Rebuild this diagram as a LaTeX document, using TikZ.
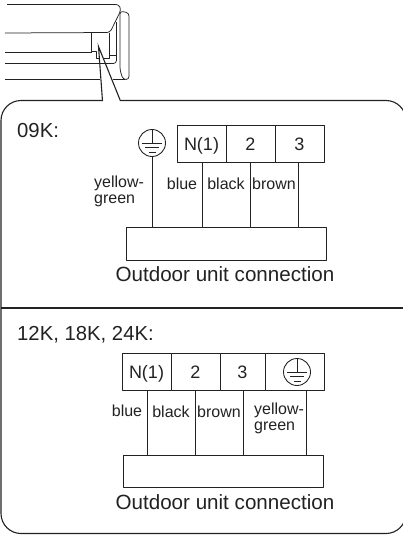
\documentclass[tikz,border=0pt]{standalone}
\usepackage{fontspec}
\setmainfont{Liberation Sans}
\definecolor{ink}{HTML}{222222}
\tikzset{
  every picture/.style={x=1pt,y=-1pt},
  ln/.style={draw=ink,line width=0.85pt,line join=round},
  thin line/.style={draw=ink,line width=0.75pt,line join=round},
  thick line/.style={draw=ink,line width=1.1pt},
  cell/.style={ln,minimum height=37pt,inner sep=0pt,font=\fontsize{18}{18}\selectfont,text=ink,text height=14pt,text depth=0pt},
  unitbox/.style={ln,inner sep=0pt},
  big/.style={anchor=base,inner sep=0pt,text=ink,font=\fontsize{20.6}{20.6}\selectfont},
  head/.style={anchor=base west,inner sep=0pt,text=ink,font=\fontsize{20.3}{20.3}\selectfont},
  small/.style={anchor=base,inner sep=0pt,text=ink,font=\fontsize{16}{16}\selectfont},
  smallw/.style={anchor=base west,inner sep=0pt,text=ink,font=\fontsize{16}{16}\selectfont},
  earth/.style={circle,ln,fill=white,minimum size=27pt,inner sep=0pt},
}
\newcommand{\earthmarks}[1]{%
  \draw[ln] (#1.north) -- (#1.center);
  \draw[ln] ([xshift=-10pt]#1.center) -- ([xshift=10pt]#1.center);
  \draw[ln] ([xshift=-7pt,yshift=-4.5pt]#1.center) -- ([xshift=7pt,yshift=-4.5pt]#1.center);
  \draw[ln] ([xshift=-3.5pt,yshift=-9pt]#1.center) -- ([xshift=3.5pt,yshift=-9pt]#1.center);
}
\begin{document}
\begin{tikzpicture}
\path[use as bounding box] (0,0) rectangle (403,535);
\clip (0,0) rectangle (403,535);
\fill[white] (0,0) rectangle (403,535);

% indoor unit
\draw[thin line,rounded corners=3pt] (7,4.5) -- (119,4.5) -- (121,10) -- (110,32.5) -- (5,33);
\draw[thin line,rounded corners=3pt] (120,11) -- (129,13) -- (129,79.5) -- (123,79.5) -- (120,70) -- cycle;
\draw[thin line] (116.5,22) -- (116.5,56);
\draw[thin line] (5,52.5) -- (92,52.5);
\draw[thin line,rounded corners=3pt] (5,63.5) -- (116.5,63.5) -- (116.5,55.5);
\draw[thin line] (5,79.7) -- (100,79.7);
\draw[thin line] (113,79.7) -- (125,79.7);
\draw[thin line] (91,33) -- (91,51) -- (96,51) -- (96,58) -- (100,58);
\draw[thin line] (109,33) -- (109,58) -- (103,58);
\draw[thin line] (109,55.5) -- (116.5,55.5);

% callout
\coordinate (tip) at (98.5,46.5);
\draw[thick line,rounded corners=20pt] (102.5,100.5) -- (1,100.5) -- (1,533.5) -- (406,533.5) -- (406,100.5) -- (120.5,100.5);
\draw[thick line,line join=miter] (102.5,101) -- (tip) -- (120.5,101);
\draw[thick line] (1,308) -- (403,308);

% 09K
\node[head] (h1) at (17,137) {09K:};
\node[cell,minimum width=49pt] (a1) at (201.5,143.5) {N(1)};
\node[cell,minimum width=49pt] (a2) at (250.5,143.5) {2};
\node[cell,minimum width=49pt] (a3) at (299.5,143.5) {3};
\node[unitbox,minimum width=200pt,minimum height=33pt] (abox) at (226,243.5) {};
\node[earth] (ae) at (152,143) {};
\earthmarks{ae}
\coordinate (aw1) at (202,162);
\coordinate (aw2) at (250,162);
\coordinate (aw3) at (298,162);
\draw[ln] (ae.south) -- (ae.south |- abox.north);
\draw[ln] (aw1) -- (aw1 |- abox.north);
\draw[ln] (aw2) -- (aw2 |- abox.north);
\draw[ln] (aw3) -- (aw3 |- abox.north);
\node[smallw] (ay1) at (94,187) {yellow-};
\node[smallw] (ay2) at (94,203) {green};
\node[small] (al1) at (182,189) {blue};
\node[small] (al2) at (226,189) {black};
\node[small] (al3) at (274,189) {brown};
\node[big] (ac) at (225,281) {Outdoor unit connection};

% 12K...
\node[head] (h2) at (17,340) {12K, 18K, 24K:};
\node[cell,minimum width=49pt] (b1) at (146.5,371.5) {N(1)};
\node[cell,minimum width=49pt] (b2) at (195.5,371.5) {2};
\node[cell,minimum width=45pt] (b3) at (242.5,371.5) {3};
\node[cell,minimum width=59pt] (b4) at (294.5,371.5) {};
\node[unitbox,minimum width=200pt,minimum height=32pt] (bbox) at (223,471) {};
\node[earth] (be) at (297,372) {};
\earthmarks{be}
\coordinate (bw1) at (147,390);
\coordinate (bw2) at (195,390);
\coordinate (bw3) at (243,390);
\coordinate (bw4) at (306,390);
\draw[ln] (bw1) -- (bw1 |- bbox.north);
\draw[ln] (bw2) -- (bw2 |- bbox.north);
\draw[ln] (bw3) -- (bw3 |- bbox.north);
\draw[ln] (bw4) -- (bw4 |- bbox.north);
\node[small] (bl1) at (127,416) {blue};
\node[small] (bl2) at (171,417) {black};
\node[small] (bl3) at (219,417) {brown};
\node[smallw] (by1) at (254,414) {yellow-};
\node[smallw] (by2) at (254,430) {green};
\node[big] (bc) at (225,509) {Outdoor unit connection};
\end{tikzpicture}
\end{document}
